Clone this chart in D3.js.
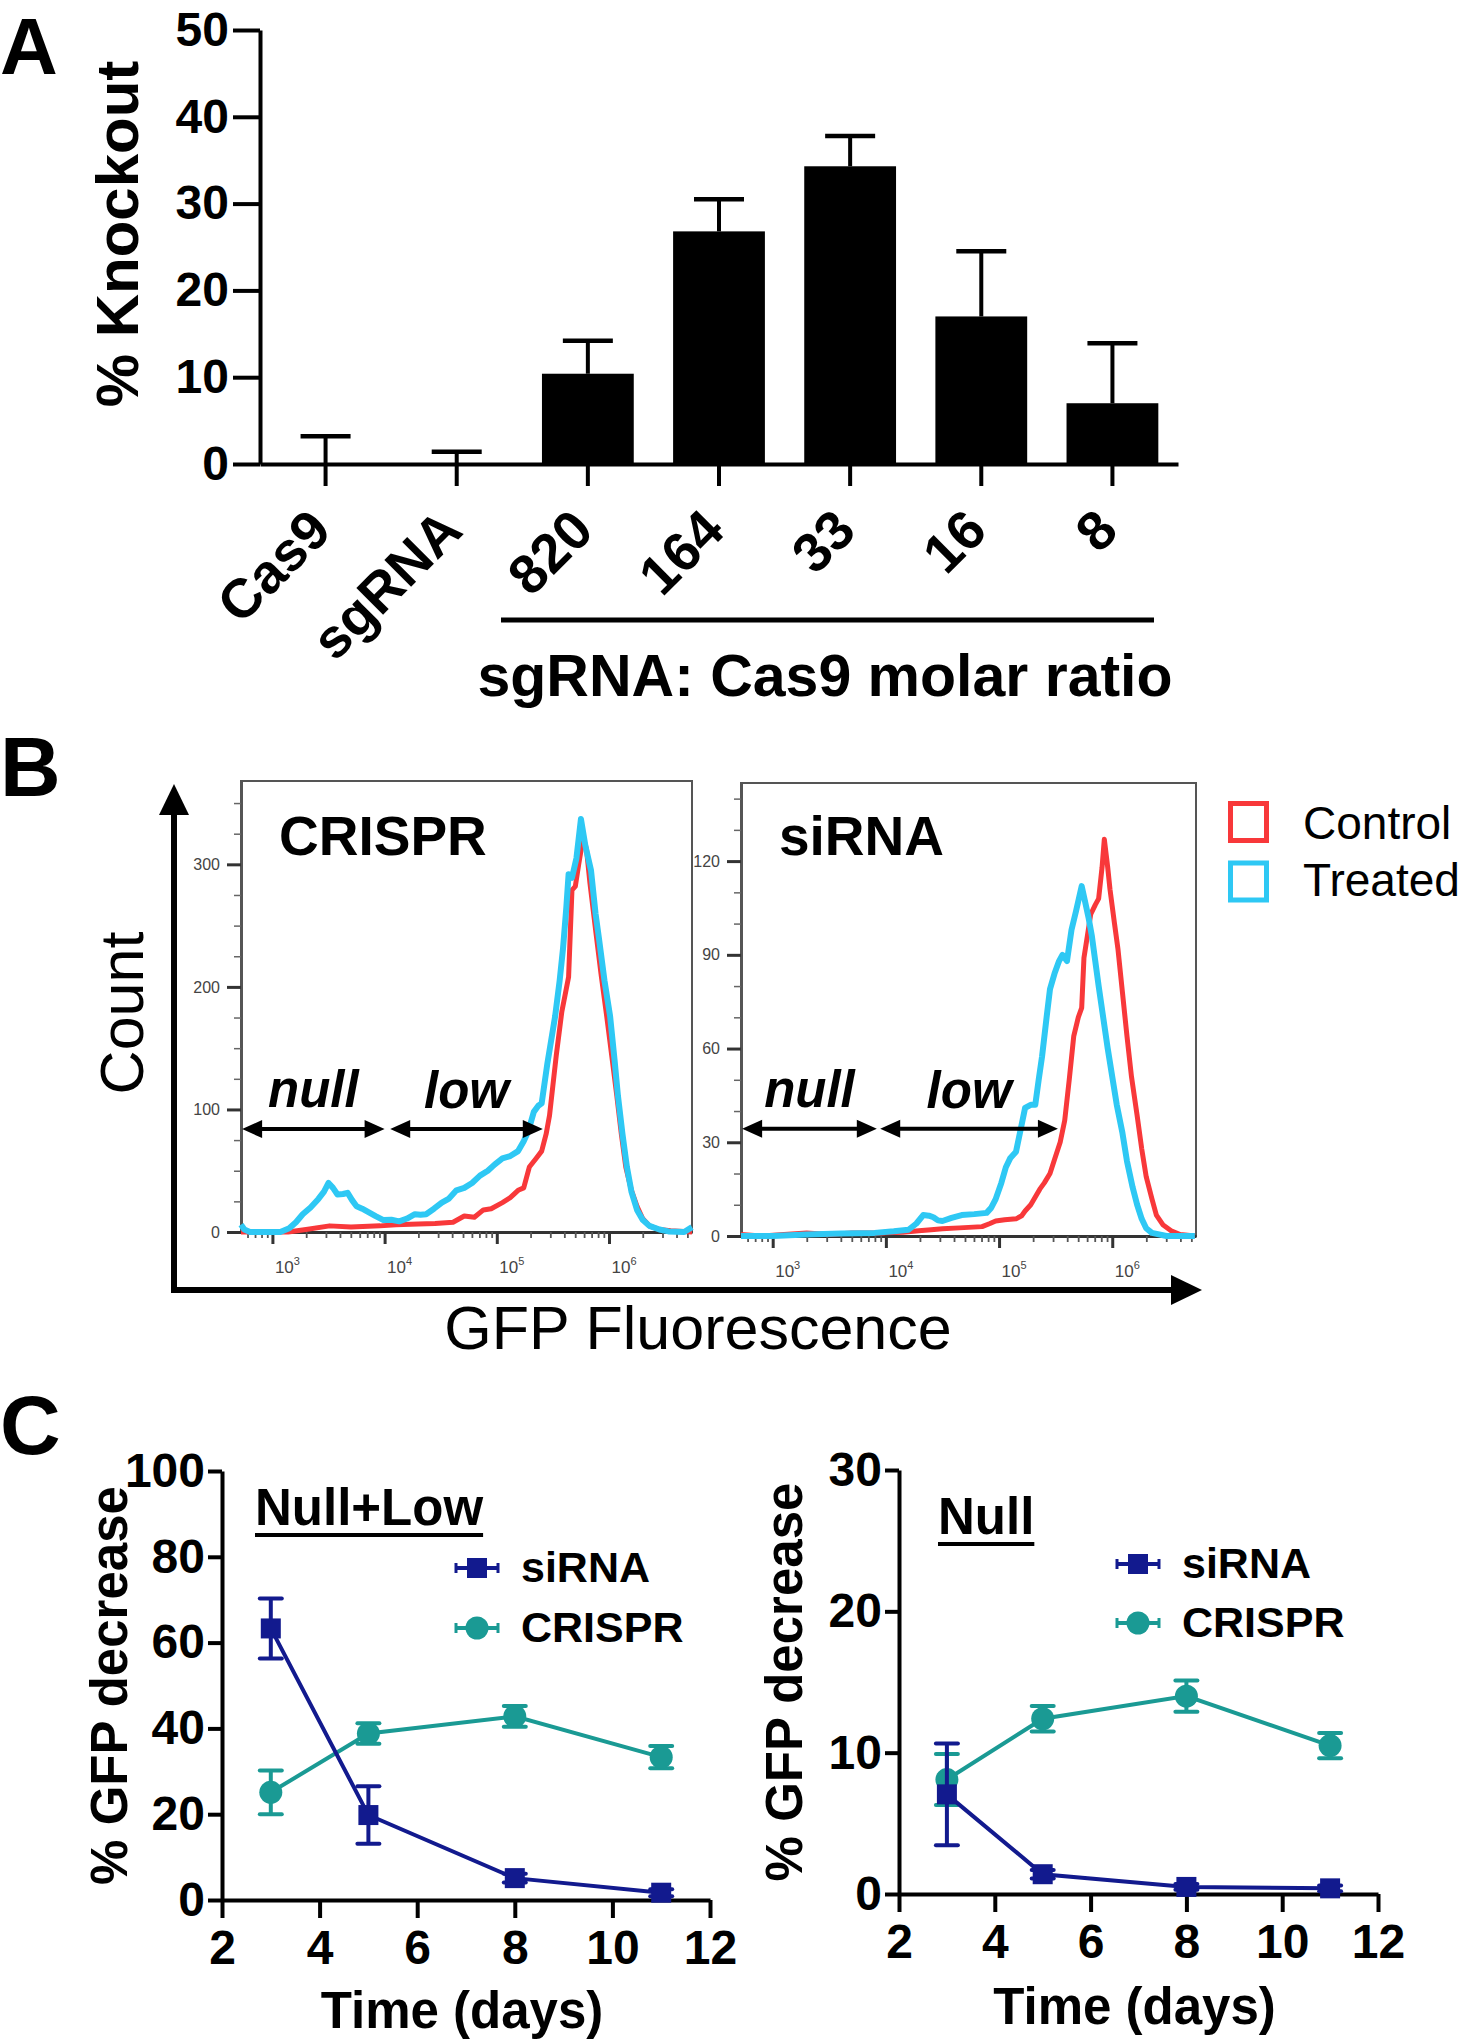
<!DOCTYPE html>
<html><head><meta charset="utf-8">
<script src="https://cdn.jsdelivr.net/npm/d3@7/dist/d3.min.js"></script>
<style>
html,body{margin:0;padding:0;background:#fff;}
svg{display:block;font-family:"Liberation Sans",Arial,Helvetica,sans-serif;}
</style></head>
<body>
<script>
// ---------------- DATA ----------------
// Panel A
const catsA = ["Cas9","sgRNA","820","164","33","16","8"];
const knockoutMean = [0, 0, 10.4, 26.8, 34.3, 17.0, 7.0];
const knockoutErr  = [3.2, 1.4, 3.8, 3.7, 3.5, 7.5, 6.9];
const yTicksA = [0,10,20,30,40,50];

// Panel B: histograms, [log10 GFP fluorescence, count]
const crisprControl = [[2.72,0],[3.14,0],[3.3,2],[3.51,5],[3.7,4],[3.96,5],[4.1,6],[4.3,6.5],[4.45,7],[4.61,8],[4.71,13],[4.8,12],[4.88,18],[4.95,19],[5.05,24],[5.12,28],[5.19,34],[5.24,36],[5.29,53],[5.35,60],[5.4,66],[5.44,80],[5.47,95],[5.53,144],[5.58,180],[5.64,208],[5.67,279],[5.7,282],[5.73,300],[5.77,322],[5.8,312],[5.83,285],[5.88,247],[5.93,210],[5.98,176],[6.03,140],[6.07,111],[6.11,80],[6.15,53],[6.2,34],[6.25,21],[6.3,11],[6.36,5],[6.45,2],[6.55,1],[6.74,0]];
const crisprTreated = [[2.72,6],[2.75,2],[2.8,0],[3.07,0],[3.15,3],[3.21,8],[3.27,14.5],[3.34,20],[3.41,27],[3.46,33],[3.5,40],[3.54,36],[3.58,30.6],[3.63,31],[3.67,32],[3.71,26],[3.75,21],[3.8,19],[3.86,16],[3.92,13],[3.99,9.7],[4.06,10],[4.13,8.7],[4.2,11],[4.27,14.5],[4.32,14],[4.37,14.5],[4.44,19],[4.51,24],[4.57,27],[4.64,34],[4.71,36],[4.78,40],[4.85,46],[4.92,50],[4.98,55],[5.05,60],[5.12,62],[5.19,66],[5.24,74],[5.28,82],[5.33,98],[5.37,103],[5.4,105],[5.45,137],[5.52,176],[5.56,205],[5.59,231],[5.62,265],[5.64,292],[5.67,289],[5.71,305],[5.75,337],[5.79,315],[5.84,295],[5.88,260],[5.91,240],[5.96,205],[6.01,176],[6.05,140],[6.08,111],[6.12,80],[6.16,53],[6.2,33],[6.25,18],[6.3,10],[6.36,5],[6.45,2],[6.53,0.5],[6.67,0],[6.74,4]];
const sirnaControl = [[2.72,0.5],[2.9,0],[3.1,0.5],[3.3,1],[3.5,0.5],[3.7,1],[3.99,1],[4.15,1.2],[4.29,1.7],[4.4,2],[4.5,2.3],[4.65,2.6],[4.85,3],[4.92,4],[4.97,4.8],[5.05,5.2],[5.15,5.5],[5.2,6.5],[5.23,8],[5.28,10],[5.32,12.5],[5.36,15],[5.4,17],[5.45,20],[5.49,24.5],[5.54,30],[5.58,37],[5.62,50],[5.66,64],[5.7,70],[5.73,73],[5.75,89],[5.78,96],[5.81,103],[5.85,106],[5.88,108],[5.91,118],[5.93,127],[5.96,118],[5.98,111],[6.02,100],[6.05,92],[6.09,78],[6.13,64],[6.17,51],[6.22,38.5],[6.26,28],[6.3,19],[6.35,12],[6.39,6.7],[6.45,3.5],[6.52,1.7],[6.6,0.5],[6.73,0]];
const sirnaTreated = [[2.72,0],[3.0,0],[3.3,0.5],[3.6,0.8],[3.9,1],[4.07,1.5],[4.2,2],[4.27,4],[4.33,6.7],[4.38,6.5],[4.42,6],[4.46,5],[4.5,4.8],[4.58,5.8],[4.67,6.7],[4.78,7],[4.89,7.4],[4.93,9],[4.97,11.8],[5.02,17],[5.06,22],[5.1,25],[5.15,27],[5.19,34],[5.23,41],[5.28,42],[5.32,42],[5.35,50],[5.38,57.5],[5.42,70],[5.45,79],[5.49,84],[5.53,88],[5.56,90],[5.6,88],[5.64,98],[5.68,104],[5.73,112],[5.76,107],[5.79,102],[5.82,96],[5.85,88],[5.88,80],[5.92,70],[5.96,60],[6.0,51],[6.04,42],[6.09,33],[6.13,24],[6.18,15.6],[6.22,10],[6.26,5.5],[6.3,2.5],[6.35,1],[6.48,0],[6.73,0]];
const logDomain = [2.72, 6.74];
const decadeTicks = [3,4,5,6];
const crisprYTicks = [0,100,200,300];
const sirnaYTicks = [0,30,60,90,120];
// gate arrows [from log10, to log10] and height in counts
const crisprGates = {null:[2.73,4.0], low:[4.05,5.41], y:84};
const sirnaGates  = {null:[2.73,3.92], low:[3.95,5.52], y:34.3};

// Panel C
const days = [3,5,8,11];
const nullLowSiRNA = [63.3,19.8,5.1,1.7];
const nullLowSiRNAErr = [7.0,6.7,1.0,0.8];
const nullLowCRISPR = [25.1,38.8,42.8,33.3];
const nullLowCRISPRErr = [5.1,2.4,2.4,2.6];
const nullSiRNA = [7.05,1.4,0.5,0.4];
const nullSiRNAErr = [3.6,0.3,0.2,0.2];
const nullCRISPR = [8.1,12.4,14.0,10.5];
const nullCRISPRErr = [1.8,0.9,1.1,0.9];
const xTicksC = [2,4,6,8,10,12];
const yTicksC1 = [0,20,40,60,80,100];
const yTicksC2 = [0,10,20,30];

// ---------------- DRAW ----------------
const svg = d3.select("body").append("svg").attr("width",1463).attr("height",2040);
const BOLD = "bold";

function styleAxis(g, sw, fs, fw, color){
  g.selectAll("path.domain").attr("stroke",color||"#000").attr("stroke-width",sw);
  g.selectAll(".tick line").attr("stroke",color||"#000").attr("stroke-width",sw);
  g.selectAll(".tick text").attr("font-size",fs).attr("font-weight",fw).attr("fill","#000")
    .attr("font-family","Liberation Sans, Arial, sans-serif");
}

// ===== Panel A =====
svg.append("text").attr("x",0).attr("y",74).attr("font-size",80).attr("font-weight",BOLD).text("A");
const xA = d3.scaleBand().domain(catsA).range([260,1178]).paddingInner(0.3).paddingOuter(0.15);
const yA = d3.scaleLinear().domain([0,50]).range([464,30]);
const bw = xA.bandwidth();

const gA = svg.append("g");
gA.selectAll("rect.bar").data(catsA).join("rect")
  .attr("x",c=>xA(c)).attr("y",(c,i)=>yA(knockoutMean[i]))
  .attr("width",bw).attr("height",(c,i)=>yA(0)-yA(knockoutMean[i])).attr("fill","#000");
gA.selectAll("line.err").data(catsA).join("line")
  .attr("x1",c=>xA(c)+bw/2).attr("x2",c=>xA(c)+bw/2)
  .attr("y1",(c,i)=>yA(knockoutMean[i])).attr("y2",(c,i)=>yA(knockoutMean[i]+knockoutErr[i]))
  .attr("stroke","#000").attr("stroke-width",4);
gA.selectAll("line.cap").data(catsA).join("line")
  .attr("x1",c=>xA(c)+bw/2-25).attr("x2",c=>xA(c)+bw/2+25)
  .attr("y1",(c,i)=>yA(knockoutMean[i]+knockoutErr[i])).attr("y2",(c,i)=>yA(knockoutMean[i]+knockoutErr[i]))
  .attr("stroke","#000").attr("stroke-width",4.5);

const axAy = svg.append("g").attr("transform","translate(260,0)")
  .call(d3.axisLeft(yA).tickValues(yTicksA).tickSize(27).tickSizeOuter(0).tickPadding(4));
styleAxis(axAy,4,48,BOLD);
const axAx = svg.append("g").attr("transform","translate(0,464)")
  .call(d3.axisBottom(xA).tickSize(22).tickSizeOuter(0).tickFormat(""));
styleAxis(axAx,4,48,BOLD);

svg.append("g").selectAll("text").data(catsA).join("text")
  .attr("transform",c=>`translate(${xA(c)+bw/2+8},533) rotate(-45)`)
  .attr("text-anchor","end").attr("font-size",55).attr("font-weight",BOLD).text(c=>c);

svg.append("text").attr("transform","translate(138,234) rotate(-90)").attr("text-anchor","middle")
  .attr("font-size",60).attr("font-weight",BOLD).text("% Knockout");
svg.append("line").attr("x1",501).attr("x2",1154).attr("y1",620).attr("y2",620)
  .attr("stroke","#000").attr("stroke-width",5);
svg.append("text").attr("x",825).attr("y",696).attr("text-anchor","middle")
  .attr("font-size",59).attr("font-weight",BOLD).text("sgRNA: Cas9 molar ratio");

// ===== Panel B =====
svg.append("text").attr("x",0).attr("y",796).attr("font-size",84).attr("font-weight",BOLD).text("B");
// big axes arrows
svg.append("line").attr("x1",174).attr("x2",174).attr("y1",1293).attr("y2",810).attr("stroke","#000").attr("stroke-width",6);
svg.append("path").attr("d","M159,815 L189,815 L174,784 Z").attr("fill","#000");
svg.append("line").attr("x1",171).attr("x2",1175).attr("y1",1290).attr("y2",1290).attr("stroke","#000").attr("stroke-width",6);
svg.append("path").attr("d","M1171,1275 L1171,1305 L1202,1290 Z").attr("fill","#000");
svg.append("text").attr("transform","translate(143,1013) rotate(-90)").attr("text-anchor","middle")
  .attr("font-size",61).text("Count");
svg.append("text").attr("x",698).attr("y",1349).attr("text-anchor","middle")
  .attr("font-size",61).text("GFP Fluorescence");

const RED = "#f8383a", CYAN = "#2ec8f4";

function histPanel(box, yMax, yTicks, yMinorStep, control, treated, gates, title){
  const x = d3.scaleLog().domain(logDomain.map(v=>Math.pow(10,v))).range([box.x0, box.x1]);
  const y = d3.scaleLinear().domain([0,yMax]).range([box.y1, box.y0]);
  const g = svg.append("g");
  g.append("rect").attr("x",box.x0).attr("y",box.y0).attr("width",box.x1-box.x0).attr("height",box.y1-box.y0)
    .attr("fill","none").attr("stroke","#555").attr("stroke-width",2);
  // y minor ticks
  const minor = d3.range(0, yMax+0.001, yMinorStep);
  const ym = g.append("g").attr("transform",`translate(${box.x0},0)`)
    .call(d3.axisLeft(y).tickValues(minor).tickSize(7).tickSizeOuter(0).tickFormat(""));
  ym.selectAll("path.domain").attr("stroke","#555").attr("stroke-width",3);
  ym.selectAll(".tick line").attr("stroke","#666").attr("stroke-width",1.5);
  const yM = g.append("g").attr("transform",`translate(${box.x0},0)`)
    .call(d3.axisLeft(y).tickValues(yTicks).tickSize(14).tickSizeOuter(0).tickPadding(7));
  yM.select("path.domain").remove();
  yM.selectAll(".tick line").attr("stroke","#333").attr("stroke-width",3);
  yM.selectAll(".tick text").attr("font-size",16).attr("fill","#444");
  // x ticks
  const minorX = [];
  for (let k=2;k<=6;k++) for (let m=2;m<=9;m++){ const v=m*Math.pow(10,k); if (Math.log10(v)>logDomain[0] && Math.log10(v)<logDomain[1]) minorX.push(v); }
  const xm = g.append("g").attr("transform",`translate(0,${box.y1})`)
    .call(d3.axisBottom(x).tickValues(minorX).tickSize(6).tickSizeOuter(0).tickFormat(""));
  xm.selectAll("path.domain").attr("stroke","#333").attr("stroke-width",3);
  xm.selectAll(".tick line").attr("stroke","#555").attr("stroke-width",1.8);
  const xM = g.append("g").attr("transform",`translate(0,${box.y1})`)
    .call(d3.axisBottom(x).tickValues(decadeTicks.map(d=>Math.pow(10,d))).tickSize(12).tickSizeOuter(0).tickFormat(""));
  xM.select("path.domain").remove();
  xM.selectAll(".tick line").attr("stroke","#333").attr("stroke-width",3);
  xM.selectAll(".tick").append("text").attr("x",2).attr("y",41).attr("text-anchor","start")
    .attr("font-size",17).attr("fill","#444").each(function(d){
      const t=d3.select(this);
      t.append("tspan").text("10");
      t.append("tspan").attr("dy",-8).attr("font-size",11).text(Math.round(Math.log10(d)));
    });
  // curves
  const line = d3.line().x(d=>x(Math.pow(10,d[0]))).y(d=>y(d[1]));
  g.append("path").datum(control).attr("d",line).attr("fill","none").attr("stroke",RED)
    .attr("stroke-width",5).attr("stroke-linejoin","round");
  g.append("path").datum(treated).attr("d",line).attr("fill","none").attr("stroke",CYAN)
    .attr("stroke-width",6).attr("stroke-linejoin","round");
  // gate arrows
  function dbl(a,b,yy){
    const x1=x(Math.pow(10,a)), x2=x(Math.pow(10,b)), L=20, H=9;
    g.append("line").attr("x1",x1+L-2).attr("x2",x2-L+2).attr("y1",yy).attr("y2",yy).attr("stroke","#000").attr("stroke-width",4);
    g.append("path").attr("d",`M${x1},${yy} L${x1+L},${yy-H} L${x1+L},${yy+H} Z M${x2},${yy} L${x2-L},${yy-H} L${x2-L},${yy+H} Z`).attr("fill","#000");
    return (x1+x2)/2;
  }
  const yy = y(gates.y);
  const cn = dbl(gates.null[0],gates.null[1],yy);
  const cl = dbl(gates.low[0],gates.low[1],yy);
  g.append("text").attr("x",cn).attr("y",yy-22).attr("text-anchor","middle").attr("font-size",51)
    .attr("font-weight",BOLD).attr("font-style","italic").text("null");
  g.append("text").attr("x",cl).attr("y",yy-21).attr("text-anchor","middle").attr("font-size",51)
    .attr("font-weight",BOLD).attr("font-style","italic").text("low");
  g.append("text").attr("x",box.x0+38).attr("y",855).attr("font-size",55).attr("font-weight",BOLD).text(title);
}
histPanel({x0:241,x1:692,y0:781,y1:1232}, 368, crisprYTicks, 25, crisprControl, crisprTreated, crisprGates, "CRISPR");
histPanel({x0:741,x1:1196,y0:783,y1:1236}, 145, sirnaYTicks, 10, sirnaControl, sirnaTreated, sirnaGates, "siRNA");

// legend B
svg.append("rect").attr("x",1230.5).attr("y",803.5).attr("width",36).attr("height",37).attr("fill","none").attr("stroke",RED).attr("stroke-width",5);
svg.append("rect").attr("x",1230.5).attr("y",863).attr("width",36).attr("height",37).attr("fill","none").attr("stroke",CYAN).attr("stroke-width",5);
svg.append("text").attr("x",1303).attr("y",839).attr("font-size",46).text("Control");
svg.append("text").attr("x",1303).attr("y",896).attr("font-size",46).text("Treated");

// ===== Panel C =====
svg.append("text").attr("x",0).attr("y",1454).attr("font-size",84).attr("font-weight",BOLD).text("C");
const NAVY = "#121a8e", TEAL = "#1a9a94";

function linePanel(cfg){
  const x = d3.scaleLinear().domain([2,12]).range([cfg.x0,cfg.x1]);
  const y = d3.scaleLinear().domain([0,cfg.yMax]).range([cfg.y0,cfg.y1]);
  const g = svg.append("g");
  const ax = g.append("g").attr("transform",`translate(0,${cfg.y0})`)
    .call(d3.axisBottom(x).tickValues(xTicksC).tickSize(18).tickSizeOuter(0).tickPadding(12));
  styleAxis(ax,4,48,BOLD);
  const ay = g.append("g").attr("transform",`translate(${cfg.x0},0)`)
    .call(d3.axisLeft(y).tickValues(cfg.yTicks).tickSize(14).tickSizeOuter(0).tickPadding(3));
  styleAxis(ay,4,48,BOLD);
  const series = [
    {v:cfg.crispr, e:cfg.crisprErr, c:TEAL, shape:"circle"},
    {v:cfg.sirna, e:cfg.sirnaErr, c:NAVY, shape:"square"}
  ];
  series.forEach(s=>{
    const gs = g.append("g");
    gs.selectAll("line.e").data(days).join("line")
      .attr("x1",d=>x(d)).attr("x2",d=>x(d))
      .attr("y1",(d,i)=>y(s.v[i]-s.e[i])).attr("y2",(d,i)=>y(s.v[i]+s.e[i]))
      .attr("stroke",s.c).attr("stroke-width",4);
    gs.selectAll("line.ct").data(days).join("line")
      .attr("x1",d=>x(d)-11).attr("x2",d=>x(d)+11)
      .attr("y1",(d,i)=>y(s.v[i]+s.e[i])).attr("y2",(d,i)=>y(s.v[i]+s.e[i]))
      .attr("stroke",s.c).attr("stroke-width",4).attr("stroke-linecap","round");
    gs.selectAll("line.cb").data(days).join("line")
      .attr("x1",d=>x(d)-11).attr("x2",d=>x(d)+11)
      .attr("y1",(d,i)=>y(s.v[i]-s.e[i])).attr("y2",(d,i)=>y(s.v[i]-s.e[i]))
      .attr("stroke",s.c).attr("stroke-width",4).attr("stroke-linecap","round");
    gs.append("path").datum(days.map((d,i)=>[d,s.v[i]]))
      .attr("d",d3.line().x(d=>x(d[0])).y(d=>y(d[1]))).attr("fill","none")
      .attr("stroke",s.c).attr("stroke-width",4);
    if (s.shape==="square"){
      gs.selectAll("rect").data(days).join("rect")
        .attr("x",d=>x(d)-10).attr("y",(d,i)=>y(s.v[i])-10).attr("width",20).attr("height",20).attr("fill",s.c);
    } else {
      gs.selectAll("circle").data(days).join("circle")
        .attr("cx",d=>x(d)).attr("cy",(d,i)=>y(s.v[i])).attr("r",11.5).attr("fill",s.c);
    }
  });
  // legend
  const L = cfg.leg;
  [[NAVY,"square","siRNA",L.y1],[TEAL,"circle","CRISPR",L.y2]].forEach(([c,sh,lab,yy])=>{
    g.append("line").attr("x1",L.x).attr("x2",L.x+44).attr("y1",yy).attr("y2",yy).attr("stroke",c).attr("stroke-width",4);
    g.append("line").attr("x1",L.x+1).attr("x2",L.x+1).attr("y1",yy-5).attr("y2",yy+5).attr("stroke",c).attr("stroke-width",3);
    g.append("line").attr("x1",L.x+43).attr("x2",L.x+43).attr("y1",yy-5).attr("y2",yy+5).attr("stroke",c).attr("stroke-width",3);
    if (sh==="square") g.append("rect").attr("x",L.x+22-10).attr("y",yy-10).attr("width",20).attr("height",20).attr("fill",c);
    else g.append("circle").attr("cx",L.x+22).attr("cy",yy).attr("r",11.5).attr("fill",c);
    g.append("text").attr("x",L.x+66).attr("y",yy+14).attr("font-size",43).attr("font-weight",BOLD).text(lab);
  });
  // title underlined
  const t = g.append("text").attr("x",cfg.title.x).attr("y",cfg.title.y).attr("font-size",51).attr("font-weight",BOLD).text(cfg.title.text);
  const w = t.node().getComputedTextLength();
  g.append("line").attr("x1",cfg.title.x).attr("x2",cfg.title.x+w).attr("y1",cfg.title.y+10).attr("y2",cfg.title.y+10)
    .attr("stroke","#000").attr("stroke-width",4);
  g.append("text").attr("x",(cfg.x0+cfg.x1)/2-4).attr("y",cfg.xLabY).attr("text-anchor","middle")
    .attr("font-size",51).attr("font-weight",BOLD).text("Time (days)");
  g.append("text").attr("transform",`translate(${cfg.yLabX},${(cfg.y0+cfg.y1)/2}) rotate(-90)`).attr("text-anchor","middle")
    .attr("font-size",51).attr("font-weight",BOLD).text("% GFP decrease");
}
linePanel({x0:222,x1:710,y0:1900,y1:1471,yMax:100,yTicks:yTicksC1,
  sirna:nullLowSiRNA,sirnaErr:nullLowSiRNAErr,crispr:nullLowCRISPR,crisprErr:nullLowCRISPRErr,
  leg:{x:455,y1:1568,y2:1628}, title:{x:255,y:1525,text:"Null+Low"}, xLabY:2028, yLabX:127});
linePanel({x0:899,x1:1378,y0:1894,y1:1470,yMax:30,yTicks:yTicksC2,
  sirna:nullSiRNA,sirnaErr:nullSiRNAErr,crispr:nullCRISPR,crisprErr:nullCRISPRErr,
  leg:{x:1116,y1:1564,y2:1623}, title:{x:938,y:1534,text:"Null"}, xLabY:2024, yLabX:802});
</script>
</body></html>
